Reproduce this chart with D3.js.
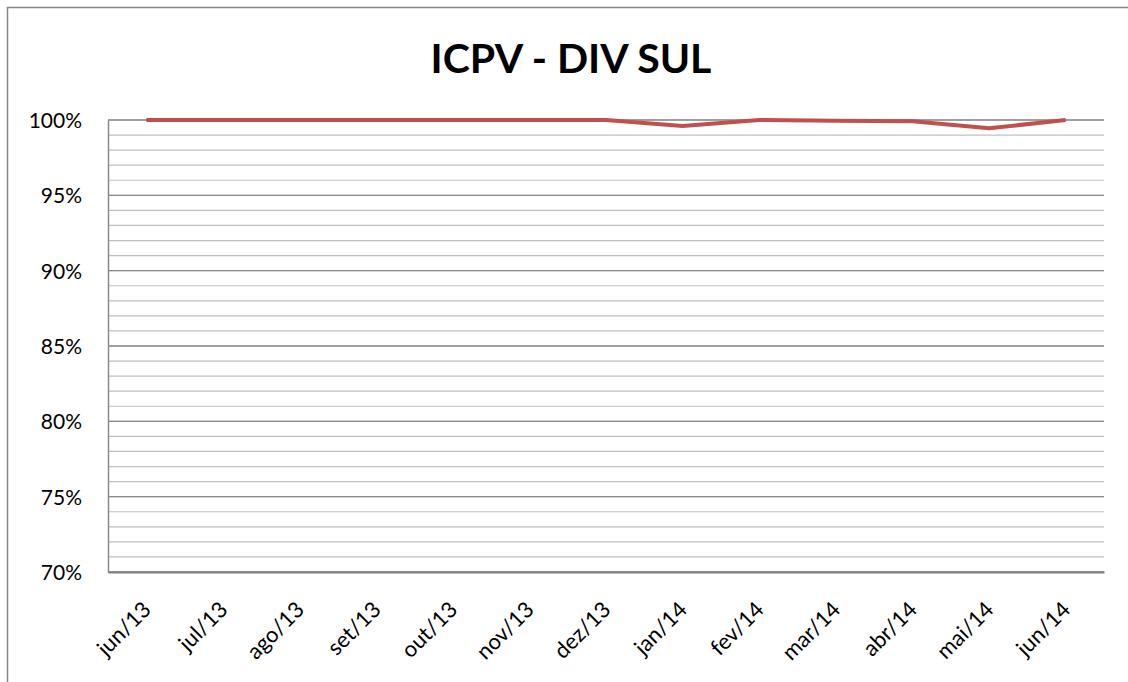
<!DOCTYPE html>
<html>
<head>
<meta charset="utf-8">
<script src="https://cdn.jsdelivr.net/npm/d3@7"></script>
<style>
  body { margin: 0; background: #fff; }
  text { font-family: Lato, "Open Sans", sans-serif; }
</style>
</head>
<body>
<script>
const months = ["jun/13", "jul/13", "ago/13", "set/13", "out/13", "nov/13", "dez/13",
                "jan/14", "fev/14", "mar/14", "abr/14", "mai/14", "jun/14"];
const icpv = [1.0, 1.0, 1.0, 1.0, 1.0, 1.0, 1.0, 0.996, 1.0, 0.9995, 0.9992, 0.9945, 1.0];
const yTicks = [0.70, 0.75, 0.80, 0.85, 0.90, 0.95, 1.00];
const minorTicks = d3.range(70, 101, 1).map(v => v / 100);

const w = 1128, h = 682;
const plot = {left: 108, right: 1104, top: 120, bottom: 572};

const svg = d3.select("body").append("svg")
    .attr("width", w)
    .attr("height", h);

// outer chart frame (runs off right / bottom edge)
svg.append("rect")
    .attr("x", 7.5).attr("y", 7.5)
    .attr("width", w + 20).attr("height", h + 20)
    .style("fill", "#fff")
    .style("stroke", "#868686")
    .style("stroke-width", 1.5);

const x = d3.scaleBand()
    .domain(months)
    .range([plot.left, plot.right]);

const y = d3.scaleLinear()
    .domain([0.70, 1.00])
    .range([plot.bottom, plot.top]);

// minor gridlines every 1%
svg.append("g").selectAll("line")
    .data(minorTicks)
    .enter().append("line")
    .attr("x1", plot.left).attr("x2", plot.right)
    .attr("y1", d => y(d)).attr("y2", d => y(d))
    .style("stroke", "#c0c0c0")
    .style("stroke-width", 1.2);

// major gridlines every 5%
svg.append("g").selectAll("line")
    .data(yTicks)
    .enter().append("line")
    .attr("x1", plot.left).attr("x2", plot.right)
    .attr("y1", d => y(d)).attr("y2", d => y(d))
    .style("stroke", "#8a8a8a")
    .style("stroke-width", 1.4);

// y axis
const yAxis = d3.axisLeft(y)
    .tickValues(yTicks)
    .tickFormat(d3.format(".0%"))
    .tickSize(0)
    .tickPadding(26);

const yg = svg.append("g")
    .attr("transform", `translate(${plot.left},0)`)
    .call(yAxis);
yg.select(".domain").style("stroke", "#8a8a8a").style("stroke-width", 1.5);
yg.selectAll("text")
    .style("font-size", "21px")
    .style("fill", "#000")
    .attr("dy", "0.36em");

// x axis
const xAxis = d3.axisBottom(x).tickSize(0).tickPadding(0);
const xg = svg.append("g")
    .attr("transform", `translate(0,${plot.bottom})`)
    .call(xAxis);
xg.select(".domain").style("stroke", "#808080").style("stroke-width", 2);
xg.selectAll("text")
    .style("font-size", "22px")
    .style("fill", "#000")
    .attr("text-anchor", "end")
    .attr("dy", 0)
    .attr("transform", "translate(6,39) rotate(-45)");

// data line
const line = d3.line()
    .x(d => x(d.m) + x.bandwidth() / 2)
    .y(d => y(d.v));

svg.append("path")
    .datum(months.map((m, i) => ({m: m, v: icpv[i]})))
    .attr("d", line)
    .style("fill", "none")
    .style("stroke", "#c0504d")
    .style("stroke-width", 4)
    .style("stroke-linejoin", "miter");

// title
svg.append("text")
    .attr("x", 571)
    .attr("y", 73)
    .attr("text-anchor", "middle")
    .style("font-size", "41px")
    .style("font-weight", "bold")
    .text("ICPV - DIV SUL");
</script>
</body>
</html>
